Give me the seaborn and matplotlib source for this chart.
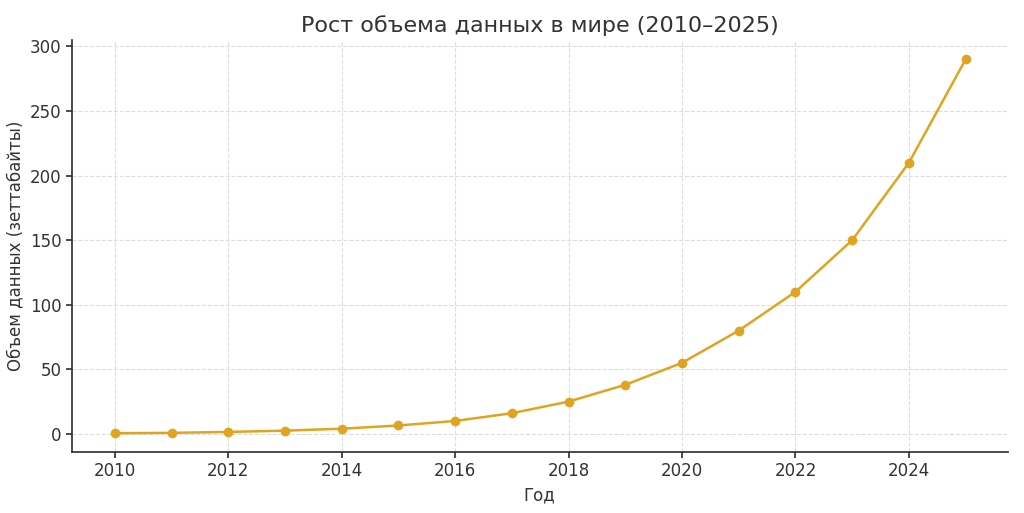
import matplotlib
matplotlib.use("Agg")
import matplotlib.pyplot as plt
import seaborn as sns
import pandas as pd

years = list(range(2010, 2026))
volume = [0.5, 0.8, 1.5, 2.5, 4, 6.5, 10, 16, 25, 38, 55, 80, 110, 150, 210, 290]

df = pd.DataFrame({"year": years, "volume": volume})

sns.set_theme(style="whitegrid")
plt.rcParams['font.family'] = ['DejaVu Sans']

fig, ax = plt.subplots(figsize=(10.24, 5.13), dpi=100)
sns.lineplot(data=df, x="year", y="volume", marker="o", color="#E0A420",
             linewidth=1.8, markersize=7, markeredgewidth=0, ax=ax)

ax.set_title("Рост объема данных в мире (2010–2025)", fontsize=16, color="#333333")
ax.set_xlabel("Год", fontsize=12, color="#333333")
ax.set_ylabel("Объем данных (зеттабайты)", fontsize=12, color="#333333")
ax.set_xticks(range(2010, 2026, 2))
ax.set_yticks(range(0, 301, 50))
ax.set_ylim(-14, 305)
ax.set_xlim(2009.24, 2025.74)
ax.tick_params(labelsize=12, colors="#333333", length=4, left=True, bottom=True)
ax.grid(True, linestyle="--", color="#dddddd", linewidth=0.8)
ax.set_facecolor("white")
for s in ["top", "right"]:
    ax.spines[s].set_visible(False)
for s in ["left", "bottom"]:
    ax.spines[s].set_color("#333333")

fig.subplots_adjust(left=0.070, right=0.984, top=0.922, bottom=0.119)
fig.savefig("out.png")
